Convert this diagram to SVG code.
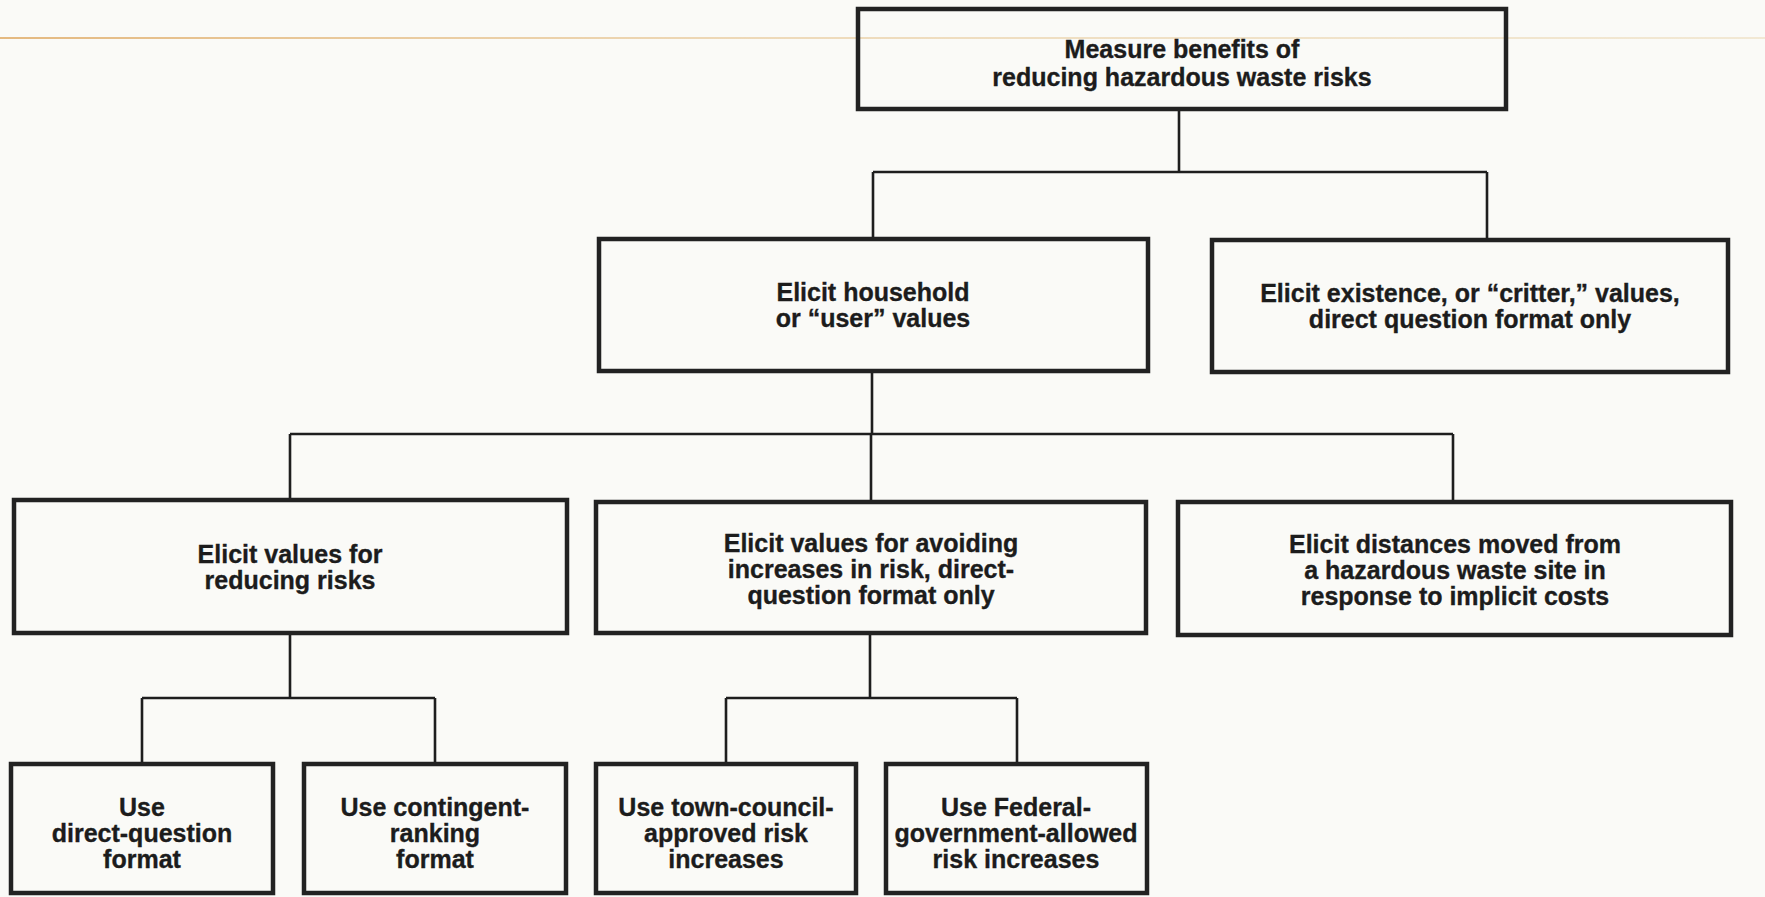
<svg xmlns="http://www.w3.org/2000/svg" width="1765" height="897" viewBox="0 0 1765 897">
<defs>
<style>
.box{fill:none;stroke:#222;stroke-width:4.5}
.con{fill:none;stroke:#1e1e1e;stroke-width:2.6}
text{font-family:"Liberation Sans",Arial,sans-serif;font-weight:bold;font-size:25px;fill:#1c1c1c;stroke:#1c1c1c;stroke-width:0.35;text-anchor:middle}
</style>
<linearGradient id="tan" x1="0" y1="0" x2="1765" y2="0" gradientUnits="userSpaceOnUse">
<stop offset="0" stop-color="#e2b273" stop-opacity="0.9"/>
<stop offset="0.45" stop-color="#e6c592" stop-opacity="0.6"/>
<stop offset="1" stop-color="#e8d3aa" stop-opacity="0.45"/>
</linearGradient>
</defs>
<rect x="0" y="0" width="1765" height="897" fill="#fafaf7"/>
<line x1="0" y1="38" x2="1765" y2="38" stroke="url(#tan)" stroke-width="2"/>
<g id="connectors">
<path class="con" d="M1179 109 V172 M873 172 H1487 M873 172 V239 M1487 172 V240"/>
<path class="con" d="M872 371 V434 M290 434 H1453 M290 434 V500 M871 434 V502 M1453 434 V502"/>
<path class="con" d="M290 633 V698 M142 698 H435 M142 698 V764 M435 698 V764"/>
<path class="con" d="M870 633 V698 M726 698 H1017 M726 698 V764 M1017 698 V764"/>
</g>
<g id="n-root">
<rect class="box" x="858" y="9" width="648" height="100"/>
<text x="1182" y="58">Measure benefits of</text>
<text x="1182" y="86">reducing hazardous waste risks</text>
</g>
<g id="n-household">
<rect class="box" x="599" y="239" width="549" height="132"/>
<text x="873" y="301">Elicit household</text>
<text x="873" y="327">or “user” values</text>
</g>
<g id="n-existence">
<rect class="box" x="1212" y="240" width="516" height="132"/>
<text x="1470" y="302">Elicit existence, or “critter,” values,</text>
<text x="1470" y="328">direct question format only</text>
</g>
<g id="n-reducing">
<rect class="box" x="14" y="500" width="553" height="133"/>
<text x="290" y="563">Elicit values for</text>
<text x="290" y="589">reducing risks</text>
</g>
<g id="n-avoiding">
<rect class="box" x="596" y="502" width="550" height="131"/>
<text x="871" y="552">Elicit values for avoiding</text>
<text x="871" y="578">increases in risk, direct-</text>
<text x="871" y="604">question format only</text>
</g>
<g id="n-distances">
<rect class="box" x="1178" y="502" width="553" height="133"/>
<text x="1455" y="553">Elicit distances moved from</text>
<text x="1455" y="579">a hazardous waste site in</text>
<text x="1455" y="605">response to implicit costs</text>
</g>
<g id="n-direct">
<rect class="box" x="11" y="764" width="262" height="129"/>
<text x="142" y="816">Use</text>
<text x="142" y="842">direct-question</text>
<text x="142" y="868">format</text>
</g>
<g id="n-ranking">
<rect class="box" x="304" y="764" width="262" height="129"/>
<text x="435" y="816">Use contingent-</text>
<text x="435" y="842">ranking</text>
<text x="435" y="868">format</text>
</g>
<g id="n-town">
<rect class="box" x="596" y="764" width="260" height="129"/>
<text x="726" y="816">Use town-council-</text>
<text x="726" y="842">approved risk</text>
<text x="726" y="868">increases</text>
</g>
<g id="n-federal">
<rect class="box" x="886" y="764" width="261" height="129"/>
<text x="1016" y="816">Use Federal-</text>
<text x="1016" y="842">government-allowed</text>
<text x="1016" y="868">risk increases</text>
</g>
</svg>
